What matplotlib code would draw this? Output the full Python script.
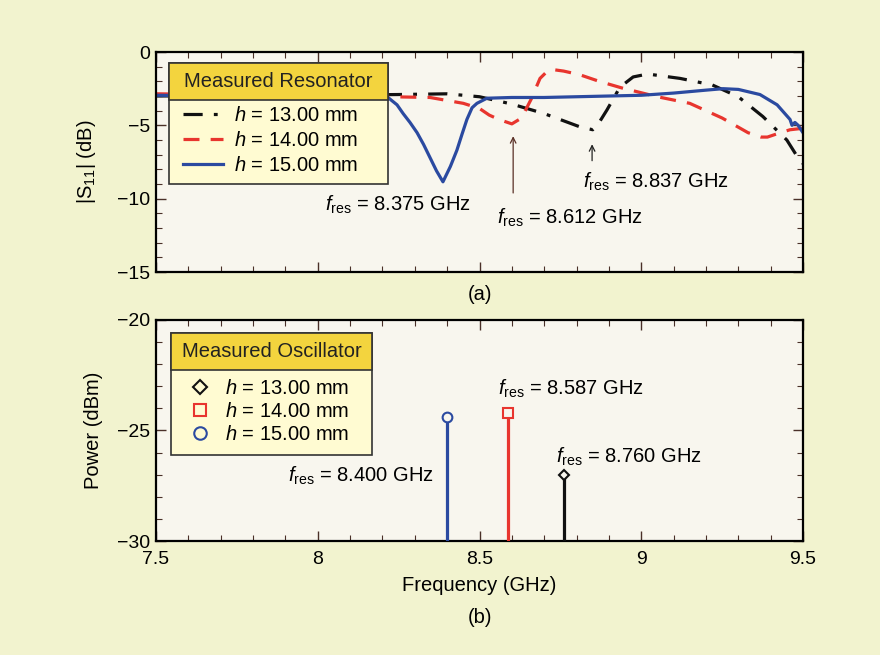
import matplotlib
matplotlib.use('Agg')
import matplotlib.pyplot as plt
from matplotlib.patches import Rectangle
from matplotlib.ticker import MultipleLocator, FuncFormatter
from matplotlib.lines import Line2D

plt.rcParams['font.family'] = ['Liberation Sans', 'DejaVu Sans']
plt.rcParams['mathtext.fontset'] = 'custom'
plt.rcParams['mathtext.rm'] = 'Liberation Sans'
plt.rcParams['mathtext.it'] = 'Liberation Sans:italic'
plt.rcParams['mathtext.bf'] = 'Liberation Sans:bold'

# measured resonator |S11| (dB)
f13 = [7.5, 8.0, 8.245, 8.4, 8.5, 8.6, 8.7, 8.81, 8.85, 8.87, 8.894, 8.934, 8.975,
       9.02, 9.12, 9.22, 9.30, 9.376, 9.45, 9.49, 9.5]
s13 = [-3.0, -2.95, -2.9, -2.85, -3.05, -3.55, -4.2, -5.1, -5.3, -4.8, -3.95, -2.4, -1.7,
       -1.5, -1.8, -2.25, -3.05, -4.4, -6.0, -7.4, -7.6]

f14 = [7.5, 7.7, 8.0, 8.223, 8.347, 8.45, 8.5, 8.53, 8.56, 8.60, 8.63, 8.66, 8.687,
       8.71, 8.727, 8.76, 8.81, 8.87, 8.94, 9.05, 9.15, 9.25, 9.33, 9.37, 9.39, 9.43,
       9.46, 9.5]
s14 = [-2.85, -2.9, -2.95, -3.05, -3.1, -3.5, -3.85, -4.3, -4.6, -4.9, -4.5, -3.2, -1.8,
       -1.3, -1.2, -1.3, -1.55, -2.0, -2.45, -3.05, -3.5, -4.5, -5.5, -5.8, -5.8, -5.5,
       -5.3, -5.2]

f15 = [7.5, 7.7, 7.9, 8.1, 8.217, 8.245, 8.264, 8.285, 8.307, 8.327, 8.347, 8.367,
       8.387, 8.41, 8.43, 8.446, 8.461, 8.477, 8.492, 8.523, 8.6, 8.7, 8.8, 8.9, 9.0,
       9.1, 9.15, 9.2, 9.253, 9.3, 9.367, 9.42, 9.44, 9.46, 9.466, 9.475, 9.485, 9.5]
s15 = [-2.95, -3.0, -3.0, -3.0, -3.1, -3.6, -4.2, -4.8, -5.5, -6.3, -7.2, -8.1,
       -8.85, -7.8, -6.7, -5.6, -4.6, -3.8, -3.5, -3.15, -3.1, -3.1, -3.05, -3.0, -2.95,
       -2.8, -2.7, -2.6, -2.5, -2.55, -2.9, -3.6, -4.1, -4.6, -5.0, -4.8, -5.0, -5.5]

# measured oscillator output
osc_f = [8.760, 8.587, 8.400]
osc_p = [-27.0, -24.2, -24.4]

labels = ['$h$ = 13.00 mm', '$h$ = 14.00 mm', '$h$ = 15.00 mm']
colors = ['#111111', '#e8352e', '#2b4aa0']
bg = '#f2f3cf'
axbg = '#f8f6ee'
tickc = '#4a3028'
fs = 14.5

fig = plt.figure(figsize=(8.8, 6.55), dpi=100, facecolor=bg)
ax1 = fig.add_axes([0.1773, 0.5847, 0.7352, 0.3359])
ax2 = fig.add_axes([0.1773, 0.174, 0.7352, 0.3375])

for ax in (ax1, ax2):
    ax.set_facecolor(axbg)
    ax.set_xlim(7.5, 9.5)
    ax.xaxis.set_major_locator(MultipleLocator(0.5))
    ax.xaxis.set_minor_locator(MultipleLocator(0.1))
    ax.yaxis.set_major_locator(MultipleLocator(5))
    ax.yaxis.set_minor_locator(MultipleLocator(1))
    ax.tick_params(which='both', direction='in', top=True, right=True, color=tickc,
                   labelsize=14, pad=4)
    ax.tick_params(axis='x', which='major', pad=7)
    ax.tick_params(which='major', length=7, width=1.0)
    ax.tick_params(which='minor', length=4, width=0.8)
    for sp in ax.spines.values():
        sp.set_linewidth(1.6)
    ax.yaxis.set_major_formatter(FuncFormatter(lambda v, p: ('%g' % v).replace('-', '\u2212')))

# (a) resonator
l13, = ax1.plot(f13, s13, color=colors[0], lw=2.3, dashes=(6, 3.5, 1.2, 3.5))
l14, = ax1.plot(f14, s14, color=colors[1], lw=2.3, dashes=(5, 3.5))
l15, = ax1.plot(f15, s15, color=colors[2], lw=2.3)
ax1.set_ylim(-15, 0)
ax1.tick_params(labelbottom=False)
ax1.set_ylabel('|S$_{\\mathrm{11}}$| (dB)', fontsize=fs, labelpad=14)

ax1.text(8.022, -10.4, '$f_{\\mathrm{res}}$ = 8.375 GHz', fontsize=fs, va='center')
ax1.text(8.554, -11.3, '$f_{\\mathrm{res}}$ = 8.612 GHz', fontsize=fs, va='center')
ax1.text(8.82, -8.85, '$f_{\\mathrm{res}}$ = 8.837 GHz', fontsize=fs, va='center')
ax1.annotate('', xy=(8.604, -5.55), xytext=(8.604, -9.8),
             arrowprops=dict(arrowstyle='->', color='#5a3026', lw=0.9))
ax1.annotate('', xy=(8.848, -6.1), xytext=(8.848, -7.6),
             arrowprops=dict(arrowstyle='->', color='#222222', lw=0.9))
ax1.text(0.5, -0.10, '(a)', transform=ax1.transAxes, ha='center', va='center', fontsize=fs)


def legend_box(ax, x0, x1, ybot, ytitle, ytop, title):
    ax.add_patch(Rectangle((x0, ybot), x1 - x0, ytop - ybot, transform=ax.transAxes,
                           facecolor='#fffbd2', edgecolor='#333333', lw=1.2, zorder=5))
    ax.add_patch(Rectangle((x0, ytitle), x1 - x0, ytop - ytitle, transform=ax.transAxes,
                           facecolor='#f3d43e', edgecolor='#333333', lw=1.2, zorder=6))
    ax.text((x0 + x1) / 2, (ytitle + ytop) / 2, title, transform=ax.transAxes,
            ha='center', va='center', fontsize=fs, color='#222222', zorder=7)


legend_box(ax1, 0.020, 0.359, 0.40, 0.782, 0.950, 'Measured Resonator')
leg1 = ax1.legend([l13, l14, l15], labels, loc='upper left', bbox_to_anchor=(0.042, 0.755),
                  frameon=False, fontsize=fs, borderpad=0, borderaxespad=0,
                  handlelength=2.0, handletextpad=0.5, labelspacing=0.3)
leg1.set_zorder(8)

# (b) oscillator
markers = ['D', 's', 'o']
msizes = [5.5, 7, 7]
for f, p, c, m, ms in zip(osc_f, osc_p, colors, markers, msizes):
    ax2.vlines(f, -30, p, color=c, lw=2.3, zorder=3)
    ax2.plot([f], [p], marker=m, ms=ms, mfc=axbg, mec=c, mew=1.5, ls='none', zorder=4)
ax2.set_ylim(-30, -20)
ax2.xaxis.set_major_formatter(FuncFormatter(lambda v, p: '%g' % v))
ax2.set_xlabel('Frequency (GHz)', fontsize=fs, labelpad=6)
ax2.set_ylabel('Power (dBm)', fontsize=fs, labelpad=10)
ax2.text(7.908, -27.03, '$f_{\\mathrm{res}}$ = 8.400 GHz', fontsize=fs, va='center')
ax2.text(8.557, -23.13, '$f_{\\mathrm{res}}$ = 8.587 GHz', fontsize=fs, va='center')
ax2.text(8.736, -26.17, '$f_{\\mathrm{res}}$ = 8.760 GHz', fontsize=fs, va='center')
ax2.text(0.5, -0.345, '(b)', transform=ax2.transAxes, ha='center', va='center', fontsize=fs)

legend_box(ax2, 0.023, 0.334, 0.389, 0.774, 0.941, 'Measured Oscillator')
hnd = [Line2D([], [], ls='none', marker=m, ms=ms + 2, mfc='none', mec=c, mew=1.5)
       for c, m, ms in zip(colors, markers, msizes)]
leg2 = ax2.legend(hnd, labels, loc='upper left', bbox_to_anchor=(0.05, 0.735),
                  frameon=False, fontsize=fs, borderpad=0, borderaxespad=0,
                  handlelength=1.2, handletextpad=0.6, labelspacing=0.2)
leg2.set_zorder(8)

fig.savefig('out.png', dpi=100, facecolor=bg)
